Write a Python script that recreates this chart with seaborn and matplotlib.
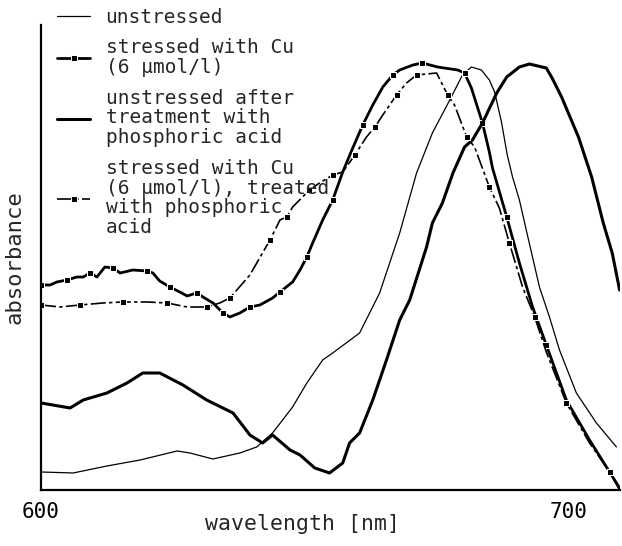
import numpy as np
import pandas as pd
import matplotlib
matplotlib.use('Agg')
import matplotlib.pyplot as plt
import seaborn as sns

# values (absorbance in arbitrary units)
wl_unstressed = [600.0, 606.1, 612.5, 618.8, 625.8, 628.2, 632.6, 637.7, 640.9, 643.9,
                 647.7, 650.4, 653.4, 655.3, 660.4, 664.2, 668.0, 671.2, 674.2, 677.5,
                 679.9, 681.6, 683.5, 685.0, 686.0, 687.3, 688.4, 689.4, 690.7, 692.0,
                 694.5, 696.4, 698.3, 701.5, 705.3, 709.1]
abs_unstressed = [18, 17, 24, 30, 39, 37, 31, 37, 43, 57,
                  83, 107, 130, 137, 157, 197, 257, 317, 357, 390,
                  415, 423, 420, 410, 398, 368, 335, 313, 290, 260,
                  203, 173, 140, 97, 67, 43]

wl_cu = [600.0, 601.7, 603.0, 604.9, 606.8, 608.0, 609.3, 610.6, 612.1, 613.6,
         615.0, 617.4, 620.1, 621.2, 622.5, 624.4, 626.3, 627.7, 629.5, 630.7,
         632.6, 634.5, 635.8, 637.7, 639.6, 641.5, 643.9, 645.3, 647.7, 649.1,
         650.4, 651.5, 653.4, 655.3, 657.2, 659.1, 661.0, 662.9, 664.8, 666.7,
         668.0, 670.5, 672.3, 675.2, 679.0, 680.3, 681.6, 682.8, 683.7, 685.0,
         685.6, 688.3, 690.7, 693.2, 695.8, 699.6, 704.0, 707.8, 709.7]
abs_cu = [205, 205, 208, 210, 213, 213, 217, 213, 223, 222,
          217, 220, 219, 217, 209, 203, 198, 194, 197, 193,
          187, 177, 173, 177, 183, 185, 192, 198, 208, 220,
          233, 247, 270, 290, 318, 342, 365, 385, 403, 415,
          420, 425, 427, 423, 420, 417, 402, 382, 367, 338,
          322, 273, 227, 183, 145, 90, 50, 18, 2]

wl_acid = [600.0, 605.5, 608.0, 612.5, 616.3, 619.3, 622.5, 626.9, 631.4, 636.4,
           639.6, 642.0, 643.9, 647.2, 649.1, 651.9, 654.7, 657.2, 658.5, 660.4,
           662.9, 665.5, 668.0, 669.9, 673.1, 674.2, 676.1, 678.1, 680.3, 681.8,
           683.7, 686.4, 688.3, 690.7, 692.6, 695.8, 696.9, 698.7, 701.9, 704.4,
           706.6, 708.3, 709.7]
abs_acid = [87, 82, 90, 97, 107, 117, 117, 105, 90, 77,
            55, 47, 55, 40, 35, 22, 17, 27, 47, 57,
            90, 130, 170, 190, 243, 267, 287, 317, 343, 350,
            367, 397, 413, 423, 426, 422, 412, 393, 353, 313,
            267, 237, 200]

wl_cu_acid = [600.0, 603.6, 607.4, 611.7, 615.5, 620.1, 623.9, 627.7, 631.4, 633.9,
              635.8, 639.6, 643.4, 645.3, 646.6, 647.7, 650.9, 652.8, 655.3, 657.2,
              659.5, 661.7, 663.3, 664.8, 667.4, 669.3, 671.2, 675.0, 677.1, 678.4,
              680.7, 682.2, 685.0, 686.9, 688.8, 691.3, 693.6, 695.8, 699.6, 704.0,
              707.8, 709.7]
abs_cu_acid = [185, 183, 185, 187, 188, 188, 187, 183, 183, 187,
               192, 215, 250, 270, 273, 283, 300, 307, 315, 318,
               335, 353, 363, 375, 395, 407, 415, 417, 395, 385,
               353, 343, 303, 282, 247, 203, 173, 138, 87, 47,
               18, 0]

labels = ['unstressed',
          'stressed with Cu\n(6 \u03bcmol/l)',
          'unstressed after\ntreatment with\nphosphoric acid',
          'stressed with Cu\n(6 \u03bcmol/l), treated\nwith phosphoric\nacid']
x_ticks = [600, 620, 640, 660, 680, 700]
x_ticklabels = ['600', '', '', '', '', '700']

sns.set_style('white')
plt.rcParams['font.family'] = ['DejaVu Sans Mono', 'DejaVu Sans']

fig = plt.figure(figsize=(6.22, 5.46), dpi=100)
ax = fig.add_axes([0.066, 0.1026, 0.931, 0.8516])

sns.lineplot(x=wl_unstressed, y=abs_unstressed, sort=False, estimator=None,
             color='black', lw=0.9, label=labels[0], ax=ax)
sns.lineplot(x=wl_cu, y=abs_cu, sort=False, estimator=None,
             color='black', lw=2.0, marker='s', markersize=4.5, markevery=3,
             label=labels[1], ax=ax)
sns.lineplot(x=wl_acid, y=abs_acid, sort=False, estimator=None,
             color='black', lw=2.2, label=labels[2], ax=ax)
sns.lineplot(x=wl_cu_acid, y=abs_cu_acid, sort=False, estimator=None,
             color='black', lw=1.2, linestyle=(0, (9, 2, 2, 2)),
             marker='s', markersize=4.5, markevery=2,
             label=labels[3], ax=ax)

ax.set_xlim(600, 709.8)
ax.set_ylim(0, 465)
ax.set_xticks(x_ticks)
ax.set_xticklabels(x_ticklabels)
ax.set_yticks([])
ax.tick_params(axis='x', direction='inout', length=9, width=1.2, pad=4,
               labelsize=15, colors='black')
for side in ['top', 'right']:
    ax.spines[side].set_visible(False)
for side in ['left', 'bottom']:
    ax.spines[side].set_color('black')
    ax.spines[side].set_linewidth(1.6)

ax.set_xlabel('wavelength [nm]', fontsize=15.5)
ax.xaxis.set_label_coords(0.452, -0.052)
ax.set_ylabel('absorbance', fontsize=16)
ax.yaxis.set_label_coords(-0.029, 0.5)

ax.legend(loc='upper left', bbox_to_anchor=(0.0916, 0.986),
          bbox_transform=fig.transFigure, frameon=False, fontsize=14,
          handlelength=1.7, handletextpad=0.8, labelspacing=0.6,
          borderpad=0, borderaxespad=0, numpoints=1)
plt.setp(ax.get_legend().get_texts(), linespacing=1.05)

fig.savefig('out.png', dpi=100)
